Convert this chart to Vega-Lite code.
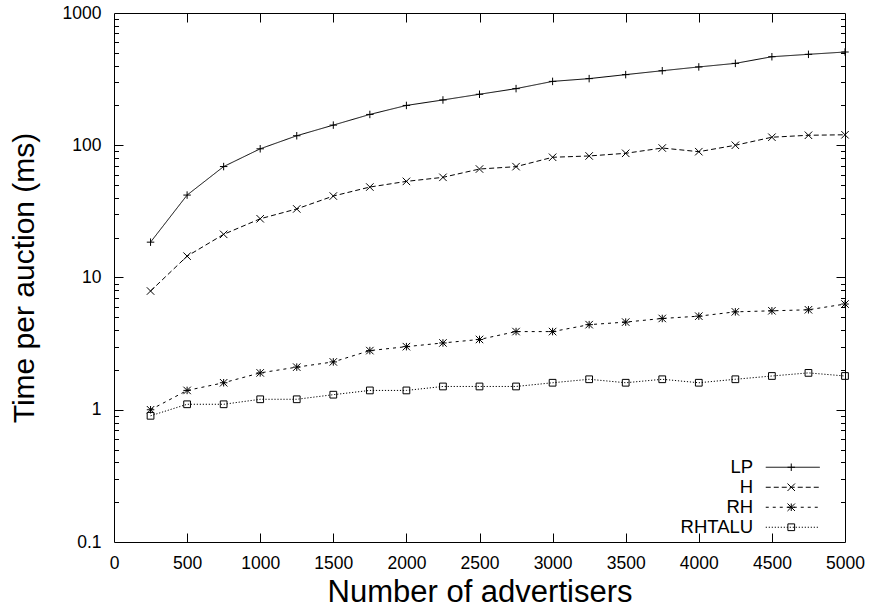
{
  "$schema": "https://vega.github.io/schema/vega-lite/v6.json",
  "width": 731,
  "height": 529,
  "autosize": {"type": "none"},
  "padding": {"left": 114, "top": 13, "right": 24, "bottom": 66},
  "background": "white",
  "data": {
    "values": [
      {"x": 250, "series": "LP", "t": 18.5}, {"x": 500, "series": "LP", "t": 42}, {"x": 750, "series": "LP", "t": 69},
      {"x": 1000, "series": "LP", "t": 94}, {"x": 1250, "series": "LP", "t": 118}, {"x": 1500, "series": "LP", "t": 142},
      {"x": 1750, "series": "LP", "t": 171}, {"x": 2000, "series": "LP", "t": 200}, {"x": 2250, "series": "LP", "t": 220},
      {"x": 2500, "series": "LP", "t": 243}, {"x": 2750, "series": "LP", "t": 268}, {"x": 3000, "series": "LP", "t": 304},
      {"x": 3250, "series": "LP", "t": 319}, {"x": 3500, "series": "LP", "t": 342}, {"x": 3750, "series": "LP", "t": 366},
      {"x": 4000, "series": "LP", "t": 391}, {"x": 4250, "series": "LP", "t": 416}, {"x": 4500, "series": "LP", "t": 467},
      {"x": 4750, "series": "LP", "t": 487}, {"x": 5000, "series": "LP", "t": 507},

      {"x": 250, "series": "H", "t": 7.9}, {"x": 500, "series": "H", "t": 14.5}, {"x": 750, "series": "H", "t": 21.2},
      {"x": 1000, "series": "H", "t": 27.8}, {"x": 1250, "series": "H", "t": 33}, {"x": 1500, "series": "H", "t": 41.3},
      {"x": 1750, "series": "H", "t": 48.3}, {"x": 2000, "series": "H", "t": 53.3}, {"x": 2250, "series": "H", "t": 57.2},
      {"x": 2500, "series": "H", "t": 66.1}, {"x": 2750, "series": "H", "t": 68.9}, {"x": 3000, "series": "H", "t": 81.1},
      {"x": 3250, "series": "H", "t": 83}, {"x": 3500, "series": "H", "t": 86.9}, {"x": 3750, "series": "H", "t": 95.3},
      {"x": 4000, "series": "H", "t": 89.4}, {"x": 4250, "series": "H", "t": 100}, {"x": 4500, "series": "H", "t": 115},
      {"x": 4750, "series": "H", "t": 119}, {"x": 5000, "series": "H", "t": 120},

      {"x": 250, "series": "RH", "t": 1.0}, {"x": 500, "series": "RH", "t": 1.4}, {"x": 750, "series": "RH", "t": 1.6},
      {"x": 1000, "series": "RH", "t": 1.9}, {"x": 1250, "series": "RH", "t": 2.1}, {"x": 1500, "series": "RH", "t": 2.3},
      {"x": 1750, "series": "RH", "t": 2.8}, {"x": 2000, "series": "RH", "t": 3.0}, {"x": 2250, "series": "RH", "t": 3.2},
      {"x": 2500, "series": "RH", "t": 3.4}, {"x": 2750, "series": "RH", "t": 3.9}, {"x": 3000, "series": "RH", "t": 3.9},
      {"x": 3250, "series": "RH", "t": 4.4}, {"x": 3500, "series": "RH", "t": 4.6}, {"x": 3750, "series": "RH", "t": 4.9},
      {"x": 4000, "series": "RH", "t": 5.1}, {"x": 4250, "series": "RH", "t": 5.5}, {"x": 4500, "series": "RH", "t": 5.6},
      {"x": 4750, "series": "RH", "t": 5.7}, {"x": 5000, "series": "RH", "t": 6.3},

      {"x": 250, "series": "RHTALU", "t": 0.9}, {"x": 500, "series": "RHTALU", "t": 1.1}, {"x": 750, "series": "RHTALU", "t": 1.1},
      {"x": 1000, "series": "RHTALU", "t": 1.2}, {"x": 1250, "series": "RHTALU", "t": 1.2}, {"x": 1500, "series": "RHTALU", "t": 1.3},
      {"x": 1750, "series": "RHTALU", "t": 1.4}, {"x": 2000, "series": "RHTALU", "t": 1.4}, {"x": 2250, "series": "RHTALU", "t": 1.5},
      {"x": 2500, "series": "RHTALU", "t": 1.5}, {"x": 2750, "series": "RHTALU", "t": 1.5}, {"x": 3000, "series": "RHTALU", "t": 1.6},
      {"x": 3250, "series": "RHTALU", "t": 1.7}, {"x": 3500, "series": "RHTALU", "t": 1.6}, {"x": 3750, "series": "RHTALU", "t": 1.7},
      {"x": 4000, "series": "RHTALU", "t": 1.6}, {"x": 4250, "series": "RHTALU", "t": 1.7}, {"x": 4500, "series": "RHTALU", "t": 1.8},
      {"x": 4750, "series": "RHTALU", "t": 1.9}, {"x": 5000, "series": "RHTALU", "t": 1.8}
    ]
  },
  "layer": [
    {
      "mark": {"type": "line", "color": "black", "strokeWidth": 1},
      "encoding": {
        "x": {
          "field": "x", "type": "quantitative",
          "scale": {"domain": [0, 5000], "nice": false, "zero": false},
          "axis": {
            "orient": "bottom", "values": [0, 500, 1000, 1500, 2000, 2500, 3000, 3500, 4000, 4500, 5000],
            "format": "d", "ticks": false, "labelPadding": 12,
            "title": "Number of advertisers", "titleFontSize": 31, "titlePadding": 6
          }
        },
        "y": {
          "field": "t", "type": "quantitative",
          "scale": {"type": "log", "domain": [0.1, 1000], "nice": false},
          "axis": {
            "orient": "left", "values": [0.1, 1, 10, 100, 1000], "format": "~g",
            "ticks": false, "labelPadding": 13,
            "title": "Time per auction (ms)", "titleFontSize": 30, "titlePadding": 23
          }
        },
        "detail": {"field": "series"},
        "strokeDash": {
          "field": "series", "type": "nominal",
          "scale": {
            "domain": ["LP", "H", "RH", "RHTALU"],
            "range": [[1, 0], [5, 3], [3, 4], [1.2, 1.8]]
          },
          "legend": {
            "title": null, "orient": "none", "legendX": 669.5, "legendY": 445,
            "symbolType": "M-13.5,0H13.5", "symbolSize": 16, "symbolStrokeWidth": 1,
            "symbolStrokeColor": "black", "symbolFillColor": "transparent",
            "labelAlign": "right", "labelOffset": -48.8, "labelFontSize": 18.5,
            "rowPadding": 1, "padding": 0
          }
        }
      }
    },
    {
      "transform": [{"calculate": "datum.series", "as": "marker"}],
      "mark": {"type": "point", "filled": false, "color": "black", "strokeWidth": 1, "size": 56, "opacity": 1},
      "encoding": {
        "x": {
          "field": "x", "type": "quantitative",
          "axis": {"orient": "bottom", "values": [500, 1000, 1500, 2000, 2500, 3000, 3500, 4000, 4500],
                   "labels": false, "tickSize": -9, "title": null}
        },
        "y": {
          "field": "t", "type": "quantitative",
          "axis": {"orient": "left", "values": [1, 10, 100], "labels": false, "tickSize": -9, "title": null}
        },
        "shape": {
          "field": "marker", "type": "nominal",
          "sort": ["LP", "H", "RH", "RHTALU"],
          "scale": {
            "range": [
              "M-1,0H1M0,-1V1",
              "M-1,-1L1,1M-1,1L1,-1",
              "M-1,0H1M0,-1V1M-1,-1L1,1M-1,1L1,-1",
              "M-0.9,-0.9H0.9V0.9H-0.9Z"
            ]
          },
          "legend": {
            "title": null, "orient": "none", "legendX": 668, "legendY": 445,
            "symbolSize": 56, "symbolStrokeWidth": 1, "symbolStrokeColor": "black", "symbolFillColor": "transparent",
            "labelOpacity": 0, "labelFontSize": 18.5, "rowPadding": 1, "padding": 0
          }
        }
      }
    },
    {
      "transform": [{"filter": "false"}],
      "mark": {"type": "point"},
      "encoding": {
        "x": {
          "field": "x", "type": "quantitative",
          "axis": {"orient": "top", "values": [500, 1000, 1500, 2000, 2500, 3000, 3500, 4000, 4500],
                   "labels": false, "tickSize": -9, "title": null}
        },
        "y": {
          "field": "t", "type": "quantitative",
          "axis": {
            "orient": "left", "labels": false, "tickSize": -4.5, "title": null,
            "values": [0.2, 0.3, 0.4, 0.5, 0.6, 0.7, 0.8, 0.9, 2, 3, 4, 5, 6, 7, 8, 9,
                       20, 30, 40, 50, 60, 70, 80, 90, 200, 300, 400, 500, 600, 700, 800, 900]
          }
        }
      }
    },
    {
      "transform": [{"filter": "false"}],
      "mark": {"type": "point"},
      "encoding": {
        "x": {"field": "x", "type": "quantitative", "axis": null},
        "y": {
          "field": "t", "type": "quantitative",
          "axis": {"orient": "right", "values": [1, 10, 100], "labels": false, "tickSize": -9, "title": null}
        }
      }
    },
    {
      "transform": [{"filter": "false"}],
      "mark": {"type": "point"},
      "encoding": {
        "x": {"field": "x", "type": "quantitative", "axis": null},
        "y": {
          "field": "t", "type": "quantitative",
          "axis": {
            "orient": "right", "labels": false, "tickSize": -4.5, "title": null,
            "values": [0.2, 0.3, 0.4, 0.5, 0.6, 0.7, 0.8, 0.9, 2, 3, 4, 5, 6, 7, 8, 9,
                       20, 30, 40, 50, 60, 70, 80, 90, 200, 300, 400, 500, 600, 700, 800, 900]
          }
        }
      }
    }
  ],
  "resolve": {"axis": {"x": "independent", "y": "independent"}},
  "config": {
    "font": "Liberation Sans",
    "view": {"stroke": "black", "strokeWidth": 1},
    "axis": {
      "grid": false, "domain": false,
      "labelFont": "Liberation Sans", "labelFontSize": 17.5, "labelColor": "black",
      "labelFlush": false, "labelOverlap": false,
      "tickColor": "black", "tickWidth": 1,
      "titleFont": "Liberation Sans", "titleFontWeight": "normal", "titleColor": "black"
    },
    "legend": {
      "labelFont": "Liberation Sans", "labelFontSize": 17.5, "labelColor": "black"
    }
  }
}
